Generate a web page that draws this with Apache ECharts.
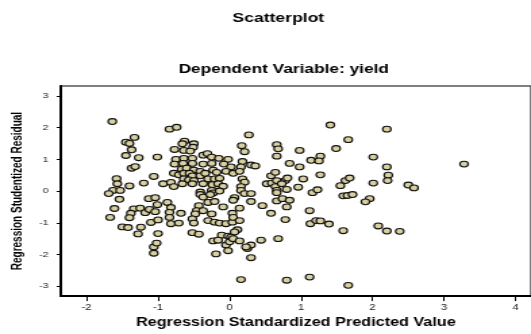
<!DOCTYPE html>
<html>
<head>
<meta charset="utf-8">
<script src="https://cdn.jsdelivr.net/npm/echarts@6/dist/echarts.min.js"></script>
<style>
  body { margin: 0; background: #fff; }
  #wrap { width: 531px; height: 334px; overflow: hidden; }
  /* the original picture is stretched sideways, so draw narrow and stretch */
  #scatter { width: 393px; height: 334px; transform: scaleX(1.3511); transform-origin: 0 0; }
</style>
</head>
<body>
<div id="wrap"><div id="scatter"></div></div>
<script>
// Regression Standardized Predicted Value
var predicted = [
    -1.64, -1.33, -1.45, -1.40, -1.37, -1.45, -1.27, -1.01, -1.37, -1.32,
    -1.06, -1.58, -1.57, -1.40, -1.20, -1.63, -1.53, -1.69, -1.54, -1.61,
    -1.67, -1.34, -1.25, -1.38, -1.40, -1.18, -1.12, -1.04, -1.13, -1.04,
    -1.01, -1.10, -1.00, -1.50, -1.42, -1.24, -1.28, -1.00, -1.06, -1.06,
    -1.02, -0.84, -0.74, -0.63, -0.66, -0.50, -0.51, -0.77, -0.64, -0.55,
    -0.75, -0.64, -0.52, -0.37, -0.31, -0.25, -0.15, -0.02, -0.77, -0.65,
    -0.52, -0.37, -0.25, -0.67, -0.60, -0.50, -0.41, -0.08, 0.02, -0.05,
    -0.23, -0.18, -0.78, -0.71, -0.64, -0.56, -0.52, -0.41, -0.34, -0.30,
    -0.21, -0.14, -0.64, -0.57, -0.50, -0.93, -0.82, -0.78, -0.66, -0.52,
    -0.37, -0.24, -0.16, -0.09, -0.41, -0.25, -0.23, -0.87, -0.82, -0.68,
    -0.84, -0.84, -0.82, -0.71, -0.41, -0.37, -0.27, -0.14, -0.30, -0.21,
    -0.09, -0.43, -0.46, -0.48, -0.37, -0.25, 0.04, -0.52, -0.50, -0.30,
    -0.21, -0.14, -0.05, 0.04, -0.52, -0.43, -0.11, -0.02, 0.02, -0.23,
    -0.16, -0.05, 0.00, -0.02, -0.19, 0.27, 0.17, 0.21, 0.66, 0.68,
    0.66, 0.98, 0.18, 0.16, 0.30, 0.36, 0.84, 0.98, 1.14, 0.05,
    0.14, 0.18, 0.21, 0.16, 0.52, 0.59, 0.66, 0.64, 0.78, 0.81,
    0.73, 0.58, 0.64, 0.96, 1.03, 0.16, 0.21, 0.30, 0.07, 0.05,
    0.66, 0.66, 0.80, 1.16, 0.30, 0.46, 0.66, 0.74, 0.84, 0.80,
    0.14, 0.58, 0.05, 0.14, 0.11, 0.07, 0.05, 0.14, 0.78, 1.12,
    1.13, 1.21, 0.44, 0.68, 0.25, 0.30, 0.23, 0.30, 0.16, 0.80,
    1.12, 1.41, 1.66, 1.49, 2.01, 1.27, 1.25, 1.27, 1.23, 1.55,
    1.62, 1.68, 2.01, 1.59, 1.65, 1.72, 1.96, 1.90, 1.27, 1.39,
    1.59, 2.08, 1.66, 2.20, 2.20, 2.22, 2.21, 2.50, 2.58, 3.28,
    2.20, 2.38
];
// Regression Studentized Residual
var residual = [
    2.19, 1.69, 1.54, 1.50, 1.30, 1.12, 1.05, 1.07, 0.72, 0.77,
    0.46, 0.39, 0.23, 0.16, 0.25, 0.02, 0.02, -0.08, -0.26, -0.55,
    -0.83, -0.56, -0.54, -0.70, -0.84, -0.68, -0.58, -0.65, -0.24, -0.21,
    -0.43, -0.99, -0.91, -1.13, -1.15, -1.14, -1.35, -1.34, -1.76, -1.96,
    -1.64, 1.95, 2.01, 1.57, 1.49, 1.49, 1.38, 1.31, 1.28, 1.26,
    1.00, 1.03, 1.03, 1.13, 1.18, 1.07, 1.03, 1.00, 0.85, 0.87,
    0.87, 0.85, 0.87, 0.69, 0.72, 0.66, 0.62, 0.85, 0.76, 0.62,
    0.66, 0.59, 0.56, 0.51, 0.56, 0.56, 0.48, 0.48, 0.56, 0.38,
    0.38, 0.40, 0.38, 0.35, 0.33, 0.23, 0.27, 0.14, 0.23, 0.23,
    0.23, 0.20, 0.23, 0.15, -0.03, 0.02, -0.06, -0.36, -0.52, -0.70,
    -0.67, -0.83, -1.03, -1.01, -0.11, -0.19, -0.11, 0.00, -0.36, -0.33,
    -0.50, -0.46, -0.62, -0.72, -0.62, -0.72, -0.70, -0.88, -1.01, -0.93,
    -0.98, -1.01, -1.03, -0.98, -1.31, -1.36, -1.39, -1.42, -1.45, -1.57,
    -1.55, -1.70, -1.60, -1.88, -1.98, 1.77, 1.43, 1.24, 1.46, 1.33,
    1.10, 1.28, 0.93, 0.76, 0.82, 0.79, 0.87, 0.76, 0.97, 0.56,
    0.62, 0.38, 0.28, 0.14, 0.23, 0.25, 0.33, 0.14, 0.33, 0.41,
    0.23, 0.48, 0.59, 0.12, 0.38, 0.02, -0.08, -0.08, -0.21, -0.29,
    0.02, -0.05, 0.05, -0.05, -0.33, -0.46, -0.31, -0.24, -0.29, -0.50,
    -0.54, -0.70, -0.83, -0.93, -1.22, -1.29, -1.50, -1.57, -0.90, -0.62,
    -1.03, -0.93, -1.55, -1.50, -1.81, -1.70, -1.76, -2.10, -2.79, -2.81,
    -2.71, 2.08, 1.62, 1.34, 1.07, 1.10, 0.95, 0.51, 0.04, 0.17,
    0.33, 0.41, 0.25, -0.15, -0.14, -0.11, -0.24, -0.34, -0.94, -1.04,
    -1.25, -1.10, -2.97, 1.95, 0.76, 0.50, 0.33, 0.19, 0.10, 0.85,
    -1.26, -1.27
];
var xTicks = [-2, -1, 0, 1, 2, 3, 4];
var yTicks = [-3, -2, -1, 0, 1, 2, 3];

function residualScatter() {
    var chart = echarts.init(document.getElementById('scatter'));

    var points = predicted.map((x, i) => [x, residual[i]]);
    var font = 'Liberation Sans';

    var option = {
        animation: false,
        title: [
            {
                text: 'Scatterplot',
                left: 201, top: 7, textAlign: 'center',
                textStyle: { fontFamily: font, fontWeight: 'bold', fontSize: 13, color: '#000' }
            },
            {
                text: 'Dependent Variable: yield',
                left: 205, top: 58, textAlign: 'center',
                textStyle: { fontFamily: font, fontWeight: 'bold', fontSize: 12.8, color: '#000' }
            }
        ],
        grid: {
            left: 39.2, right: -2, top: 86, bottom: 34,
            show: true, borderColor: '#555', borderWidth: 1.5
        },
        xAxis: {
            type: 'value',
            min: -2.36,
            max: 4.216,
            name: 'Regression Standardized Predicted Value',
            nameLocation: 'middle',
            nameGap: 18,
            nameTextStyle: { fontFamily: font, fontWeight: 'bold', fontSize: 12, color: '#000' },
            splitLine: { show: false },
            axisLine: { onZero: false, lineStyle: { color: '#000', width: 2 } },
            axisTick: { customValues: xTicks, length: 5, lineStyle: { color: '#000' } },
            axisLabel: { customValues: xTicks, fontFamily: font, fontSize: 8.5, margin: 7, color: '#222' }
        },
        yAxis: {
            type: 'value',
            min: -3.31,
            max: 3.31,
            name: 'Regression Studentized Residual',
            nameLocation: 'middle',
            nameGap: 21,
            nameTextStyle: { fontFamily: font, fontWeight: 'bold', fontSize: 10, color: '#000' },
            splitLine: { show: false },
            axisLine: { onZero: false, lineStyle: { color: '#000', width: 2 } },
            axisTick: { customValues: yTicks, length: 3, lineStyle: { color: '#000' } },
            axisLabel: { customValues: yTicks, fontFamily: font, fontSize: 8, margin: 9, color: '#222' }
        },
        series: [
            {
                type: 'scatter',
                data: points,
                symbol: 'circle',
                symbolSize: [6.2, 5.8],
                itemStyle: { color: '#d9d0a1', borderColor: '#111', borderWidth: 1.1, opacity: 1 }
            }
        ]
    };

    option && chart.setOption(option);
}
residualScatter();
</script>
</body>
</html>
